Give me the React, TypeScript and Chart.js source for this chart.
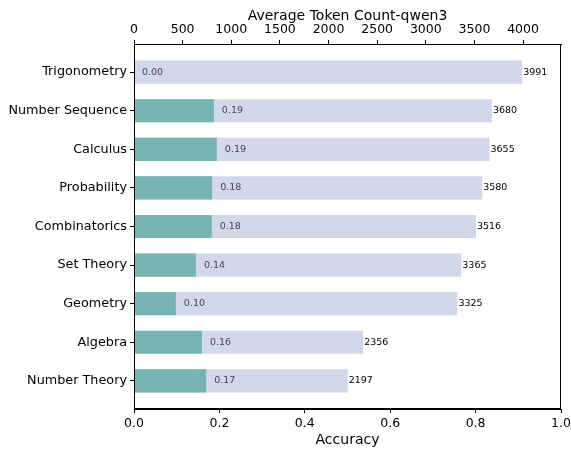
import React, { useEffect, useRef } from "react";
import { Chart, registerables } from "chart.js";

Chart.register(...registerables);

const categories = [
  "Trigonometry",
  "Number Sequence",
  "Calculus",
  "Probability",
  "Combinatorics",
  "Set Theory",
  "Geometry",
  "Algebra",
  "Number Theory",
];
const accuracy = [0.0, 0.187, 0.194, 0.183, 0.182, 0.145, 0.098, 0.159, 0.169];
const accuracyLabels = ["0.00", "0.19", "0.19", "0.18", "0.18", "0.14", "0.10", "0.16", "0.17"];
const tokenCounts = [3991, 3680, 3655, 3580, 3516, 3365, 3325, 2356, 2197];
const accuracyTicks = [0, 0.2, 0.4, 0.6, 0.8, 1.0];
const tokenTicks = [0, 500, 1000, 1500, 2000, 2500, 3000, 3500, 4000];

const FONT = "'DejaVu Sans', sans-serif";
const TEAL = "#76b4b2";
const LAVENDER = "#d2d8ea";

const labelPlugin = {
  id: "barLabels",
  afterDatasetsDraw(chart: any) {
    const ctx = chart.ctx;
    ctx.save();
    ctx.textBaseline = "middle";
    ctx.textAlign = "left";
    const accMeta = chart.getDatasetMeta(0);
    ctx.font = `9.5px ${FONT}`;
    ctx.fillStyle = "#444455";
    accMeta.data.forEach((el: any, i: number) => {
      ctx.fillText(accuracyLabels[i], el.x + 8, el.y);
    });
    const tokMeta = chart.getDatasetMeta(1);
    ctx.fillStyle = "#000000";
    tokMeta.data.forEach((el: any, i: number) => {
      ctx.fillText(String(tokenCounts[i]), el.x + 1, el.y);
    });
    ctx.restore();
  },
  afterDraw(chart: any) {
    const { ctx, chartArea } = chart;
    ctx.save();
    ctx.strokeStyle = "#000";
    ctx.lineWidth = 1;
    ctx.strokeRect(
      Math.round(chartArea.left) + 0.5,
      Math.round(chartArea.top) + 0.5,
      Math.round(chartArea.right - chartArea.left) - 1,
      Math.round(chartArea.bottom - chartArea.top) - 1
    );
    ctx.restore();
  },
};

const noHorizPad = (s: any, h: number) => {
  s.height = h;
  s.paddingLeft = 0;
  s.paddingRight = 0;
};

export default function App() {
  const ref = useRef<HTMLCanvasElement>(null);
  useEffect(() => {
    if (!ref.current) return;
    const chart = new Chart(ref.current, {
      type: "bar",
      data: {
        datasets: [
          {
            label: "Accuracy",
            data: accuracy.map((v, i) => ({ x: v, y: i })),
            xAxisID: "x",
            yAxisID: "y",
            backgroundColor: TEAL,
            grouped: false,
            barPercentage: 0.6,
            categoryPercentage: 1,
          } as any,
          {
            label: "Tokens",
            data: tokenCounts.map((v, i) => ({ x: v, y: i })),
            xAxisID: "x2",
            yAxisID: "y",
            backgroundColor: LAVENDER,
            grouped: false,
            barPercentage: 0.6,
            categoryPercentage: 1,
          } as any,
        ],
      },
      options: {
        indexAxis: "y",
        responsive: false,
        animation: false,
        layout: { padding: { left: 0, right: 10, top: 0, bottom: 0 } },
        plugins: { legend: { display: false }, tooltip: { enabled: false } },
        scales: {
          y: {
            type: "linear",
            reverse: true,
            offset: false,
            min: -0.73,
            max: 8.73,
            afterBuildTicks: (s: any) => {
              s.ticks = categories.map((_, i) => ({ value: i }));
            },
            afterFit: (s: any) => {
              s.width = 134;
              s.paddingTop = 0;
              s.paddingBottom = 0;
            },
            ticks: {
              callback: (v: any) => categories[v as number],
              font: { family: FONT, size: 12.8 },
              color: "#000",
              padding: 3,
              autoSkip: false,
            },
            grid: { offset: false, drawOnChartArea: false, drawTicks: true, tickLength: 4, color: "#000" },
            border: { display: true, color: "#000" },
          },
          x: {
            type: "linear",
            position: "bottom",
            min: 0,
            max: 1,
            afterBuildTicks: (s: any) => {
              s.ticks = accuracyTicks.map((v) => ({ value: v }));
            },
            afterFit: (s: any) => noHorizPad(s, 42),
            ticks: {
              callback: (v: any) => Number(v).toFixed(1),
              font: { family: FONT, size: 12.5 },
              color: "#000",
              padding: 3,
              maxRotation: 0,
            },
            title: {
              display: true,
              text: "Accuracy",
              font: { family: FONT, size: 14 },
              color: "#000",
              padding: { top: 0, bottom: 2 },
            },
            grid: { drawOnChartArea: false, drawTicks: true, tickLength: 4, color: "#000" },
            border: { display: true, color: "#000" },
          },
          x2: {
            type: "linear",
            position: "top",
            min: 0,
            max: 4390,
            afterBuildTicks: (s: any) => {
              s.ticks = tokenTicks.map((v) => ({ value: v }));
            },
            afterFit: (s: any) => noHorizPad(s, 44),
            ticks: {
              callback: (v: any) => String(v),
              font: { family: FONT, size: 12.5 },
              color: "#000",
              padding: 3,
              maxRotation: 0,
            },
            title: {
              display: true,
              text: "Average Token Count-qwen3",
              font: { family: FONT, size: 14 },
              color: "#000",
              padding: { top: 8, bottom: 0 },
            },
            grid: { drawOnChartArea: false, drawTicks: true, tickLength: 4, color: "#000" },
            border: { display: true, color: "#000" },
          },
        },
      } as any,
      plugins: [labelPlugin],
    });
    return () => chart.destroy();
  }, []);
  return (
    <div style={{ position: "absolute", left: 0, top: 0, width: 571, height: 451, background: "#fff" }}>
      <canvas ref={ref} width={571} height={451} style={{ display: "block" }} />
    </div>
  );
}
